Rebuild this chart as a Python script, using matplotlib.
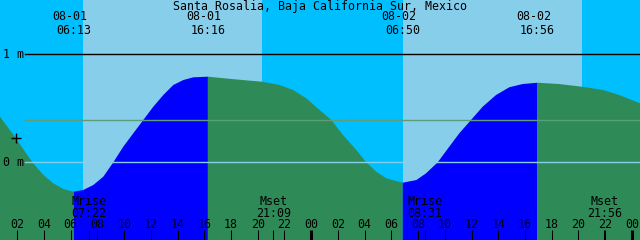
import matplotlib
matplotlib.use('Agg')
import matplotlib.pyplot as plt
import matplotlib.transforms as mtransforms
import numpy as np

# tide curve: hours since 08-01 00:00, level in metres
hours = [0.705, 1.903, 2.576, 3.198, 3.946, 4.695, 5.443, 6.217, 6.940, 7.689,
         8.437, 9.186, 9.934, 10.683, 11.431, 12.180, 12.928, 13.677, 14.425,
         15.174, 16.267, 18.25, 20.263, 21.641, 22.636, 23.632, 24.635, 25.503,
         26.379, 27.374, 28.123, 28.871, 29.620, 30.833, 31.866, 32.592, 33.467,
         34.335, 35.084, 35.960, 36.835, 37.831, 38.826, 39.829, 40.933, 42.570,
         44.269, 45.817, 47.060, 48.610]
level = [0.419, 0.219, 0.095, -0.012, -0.120, -0.197, -0.250, -0.275, -0.259, -0.213,
         -0.136, -0.003, 0.142, 0.266, 0.389, 0.512, 0.620, 0.713, 0.759,
         0.784, 0.790, 0.766, 0.744, 0.713, 0.667, 0.590, 0.481, 0.389,
         0.250, 0.111, -0.003, -0.090, -0.151, -0.192, -0.167, -0.105, -0.003,
         0.142, 0.266, 0.389, 0.512, 0.620, 0.692, 0.722, 0.734, 0.722,
         0.697, 0.667, 0.620, 0.544]

# low / high tide events (rising between low and next high)
low_times = [6.217, 30.833]
high_times = [16.267, 40.933]
event_times = [6.217, 16.267, 30.833, 40.933]
event_dates = ['08-01', '08-01', '08-02', '08-02']
event_labels = ['06:13', '16:16', '06:50', '16:56']

# daylight periods
sunrise = [6.92, 30.87]
sunset = [20.32, 44.27]

# moon events
moon_times = [7.367, 21.15, 32.517, 45.933]
moon_names = ['Mrise', 'Mset', 'Mrise', 'Mset']
moon_labels = ['07:22', '21:09', '08:31', '21:56']

mean_level = 0.386
now_time = 1.903
now_level = 0.219

title = 'Santa Rosalia, Baja California Sur, Mexico'

t0, t1 = 0.705, 48.61
ymin, ymax = -0.722, 1.5

night = '#00bfff'
day = '#87ceeb'
rise_col = '#0000ff'
fall_col = '#2e8b57'

plt.rcParams['font.family'] = ['DejaVu Sans Mono']
fs = 8.4

fig = plt.figure(figsize=(6.4, 2.4), dpi=100)
ax = fig.add_axes([0, 0, 1, 1])
ax.set_xlim(t0, t1)
ax.set_ylim(ymin, ymax)
ax.axis('off')
ax.add_patch(plt.Rectangle((0, 0), 1, 1, transform=ax.transAxes, color=night, zorder=0))

for a, b in zip(sunrise, sunset):
    ax.axvspan(a, b, color=day, lw=0, zorder=1)

t = np.array(hours)
h = np.array(level)
rising = np.zeros(len(t), dtype=bool)
for lo, hi in zip(low_times, high_times):
    rising |= (t >= lo) & (t <= hi)
falling = ~rising
for lo, hi in zip(low_times, high_times):
    falling |= (t == lo) | (t == hi)
ax.fill_between(t, h, ymin, where=rising, color=rise_col, lw=0, zorder=2)
ax.fill_between(t, h, ymin, where=falling, color=fall_col, lw=0, zorder=2)

# datum lines
x_start = 25 / 640
ax.axhline(1.0, xmin=x_start, color='black', lw=1.0, zorder=3)
ax.axhline(0.0, xmin=x_start, color=day, lw=1.0, zorder=3)
ax.axhline(mean_level, xmin=x_start, color='#5a9f7a', lw=1.0, zorder=3)
ax.text(0.004, 1.0, '1 m', transform=ax.get_yaxis_transform(), ha='left', va='center', fontsize=fs, zorder=4)
ax.text(0.004, 0.0, '0 m', transform=ax.get_yaxis_transform(), ha='left', va='center', fontsize=fs, zorder=4)

ax.plot(now_time, now_level, marker='+', ms=7, mew=1.0, color='black', zorder=5)

# title and tide event labels
ax.text(0.5, 0.971, title, transform=ax.transAxes, ha='center', va='center', fontsize=fs, zorder=4)
xt = ax.get_xaxis_transform()
date_tr = mtransforms.offset_copy(xt, fig=fig, x=-4, y=0, units='dots')
for et, d, lab in zip(event_times, event_dates, event_labels):
    ax.text(et, 0.930, d, transform=date_tr, ha='center', va='center', fontsize=fs, zorder=4)
    ax.text(et, 0.875, lab, transform=xt, ha='center', va='center', fontsize=fs, zorder=4)

# hour ticks
tick_h = 10 / 240
for hr in range(2, 49, 2):
    lw = 2.2 if hr % 24 == 0 else 0.75
    ax.plot([hr, hr], [0, tick_h], transform=xt, color='black', lw=lw, solid_capstyle='butt', zorder=4)
    ax.text(hr, 0.0625, '%02d' % (hr % 24), transform=xt, ha='center', va='center', fontsize=fs, zorder=4)

# moon events
for mt, name, lab in zip(moon_times, moon_names, moon_labels):
    ax.plot([mt, mt], [0, tick_h], transform=xt, color='black', lw=0.75, solid_capstyle='butt', zorder=4)
    ax.text(mt, 0.160, name, transform=xt, ha='center', va='center', fontsize=fs, zorder=4)
    ax.text(mt, 0.111, lab, transform=xt, ha='center', va='center', fontsize=fs, zorder=4)

fig.savefig('out.png', dpi=100)
